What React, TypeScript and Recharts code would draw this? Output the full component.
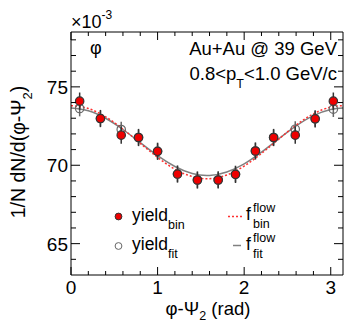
import {
  ComposedChart,
  Line,
  Scatter,
  ErrorBar,
  XAxis,
  YAxis
} from 'recharts'

// phi - Psi2 bin centers (rad) and measured yields (x10^-3)
const phiBins = [0.10, 0.34, 0.58, 0.78, 1.00, 1.23, 1.46, 1.70, 1.90, 2.13, 2.34, 2.59, 2.82, 3.03]
const yieldBin = [74.09, 72.98, 71.92, 71.77, 70.89, 69.44, 69.06, 69.06, 69.42, 70.91, 71.77, 71.92, 72.96, 74.09]
const yieldBinErr = [0.55, 0.55, 0.55, 0.55, 0.55, 0.55, 0.55, 0.55, 0.55, 0.55, 0.55, 0.55, 0.55, 0.55]
const yieldFit = [73.62, 72.98, 72.28, 71.77, 70.89, 69.44, 69.06, 69.06, 69.42, 70.91, 71.77, 72.30, 72.96, 73.58]
const yieldFitErr = [0.5, 0.5, 0.5, 0.5, 0.5, 0.5, 0.5, 0.5, 0.5, 0.5, 0.5, 0.5, 0.5, 0.5]

// flow curves
const curvePhi = [0, 0.2, 0.4, 0.6, 0.8, 1.0, 1.2, 1.4, 1.6, 1.8, 2.0, 2.2, 2.4, 2.6, 2.8, 3.0, 3.1416]
const flowFit = [73.65, 73.48, 73.0, 72.28, 71.44, 70.61, 69.92, 69.47, 69.35, 69.57, 70.09, 70.84, 71.69, 72.51, 73.17, 73.56, 73.65]
const flowBin = [73.8, 73.62, 73.09, 72.31, 71.4, 70.5, 69.75, 69.28, 69.14, 69.38, 69.95, 70.75, 71.67, 72.56, 73.28, 73.71, 73.8]

const xTicks = [0, 0.2, 0.4, 0.6, 0.8, 1, 1.2, 1.4, 1.6, 1.8, 2, 2.2, 2.4, 2.6, 2.8, 3]
const yTicks = [64, 65, 66, 67, 68, 69, 70, 71, 72, 73, 74, 75, 76, 77, 78]
const xLabels = [0, 1, 2, 3]
const yLabels = [65, 70, 75]

const FONT = '"Liberation Sans", Arial, Helvetica, sans-serif'

const binPts = phiBins.map((x, i) => ({ x, y: yieldBin[i], err: yieldBinErr[i] }))
const fitPts = phiBins.map((x, i) => ({ x, y: yieldFit[i], err: yieldFitErr[i] }))
const fitCurve = curvePhi.map((x, i) => ({ x, y: flowFit[i] }))
const binCurve = curvePhi.map((x, i) => ({ x, y: flowBin[i] }))

const isOn = (v: number, list: number[]) => list.some((l) => Math.abs(l - v) < 1e-6)

// frame edges in pixels (plot area)
const TOP = 32
const BOTTOM = 275
const LEFT = 71
const RIGHT = 343

const BottomTick = (props: any) => {
  const { x, payload } = props
  const major = isOn(payload.value, xLabels)
  return (
    <g>
      <line x1={x} x2={x} y1={BOTTOM} y2={BOTTOM - (major ? 8 : 4)} stroke="#000" />
      {major && (
        <text x={x} y={BOTTOM + 19} textAnchor="middle" fontSize={19} fontFamily={FONT} fill="#000">
          {payload.value}
        </text>
      )}
    </g>
  )
}

const TopTick = (props: any) => {
  const { x, payload } = props
  const major = isOn(payload.value, xLabels)
  return <line x1={x} x2={x} y1={TOP} y2={TOP + (major ? 8 : 4)} stroke="#000" />
}

const LeftTick = (props: any) => {
  const { y, payload } = props
  const major = isOn(payload.value, yLabels)
  return (
    <g>
      <line x1={LEFT} x2={LEFT + (major ? 9 : 5)} y1={y} y2={y} stroke="#000" />
      {major && (
        <text x={LEFT - 3} y={y + 7} textAnchor="end" fontSize={19} fontFamily={FONT} fill="#000">
          {payload.value}
        </text>
      )}
    </g>
  )
}

const RightTick = (props: any) => {
  const { y, payload } = props
  const major = isOn(payload.value, yLabels)
  return <line x1={RIGHT} x2={RIGHT - (major ? 9 : 5)} y1={y} y2={y} stroke="#000" />
}

const RedDot = (p: any) => <circle cx={p.cx} cy={p.cy} r={4.2} fill="#ee0000" stroke="#333" strokeWidth={1.2} />
const OpenDot = (p: any) => <circle cx={p.cx} cy={p.cy} r={4.2} fill="none" stroke="#666" strokeWidth={1.2} />

export default function App() {
  return (
    <div style={{ position: 'absolute', left: 0, top: 0, width: 345, height: 324, background: '#fff' }}>
      <ComposedChart width={345} height={324} margin={{ top: TOP - 1, right: 345 - RIGHT - 1, bottom: 324 - BOTTOM - 1, left: LEFT - 1 }}>
        <XAxis
          xAxisId="b"
          type="number"
          dataKey="x"
          domain={[0, Math.PI]}
          ticks={xTicks}
          interval={0}
          height={1}
          tickSize={0}
          tickMargin={0}
          tick={(p: any) => <BottomTick {...p} />}
          axisLine={{ stroke: '#000' }}
          allowDataOverflow
        />
        <XAxis
          xAxisId="t"
          orientation="top"
          type="number"
          dataKey="x"
          domain={[0, Math.PI]}
          ticks={xTicks}
          interval={0}
          height={1}
          tickSize={0}
          tickMargin={0}
          tick={(p: any) => <TopTick {...p} />}
          axisLine={{ stroke: '#000' }}
          allowDataOverflow
        />
        <YAxis
          yAxisId="l"
          type="number"
          domain={[63, 78.5]}
          ticks={yTicks}
          interval={0}
          width={1}
          tickSize={0}
          tickMargin={0}
          tick={(p: any) => <LeftTick {...p} />}
          axisLine={{ stroke: '#000' }}
          allowDataOverflow
        />
        <YAxis
          yAxisId="r"
          orientation="right"
          type="number"
          domain={[63, 78.5]}
          ticks={yTicks}
          interval={0}
          width={1}
          tickSize={0}
          tickMargin={0}
          tick={(p: any) => <RightTick {...p} />}
          axisLine={{ stroke: '#000' }}
          allowDataOverflow
        />
        <Line
          xAxisId="b"
          yAxisId="l"
          data={fitCurve}
          dataKey="y"
          type="natural"
          stroke="#808080"
          strokeWidth={1.5}
          dot={false}
          isAnimationActive={false}
        />
        <Line
          xAxisId="b"
          yAxisId="l"
          data={binCurve}
          dataKey="y"
          type="natural"
          stroke="#ff3030"
          strokeWidth={1.5}
          strokeDasharray="2 2"
          dot={false}
          isAnimationActive={false}
        />
        <Scatter xAxisId="b" yAxisId="l" data={fitPts} dataKey="y" shape={OpenDot} isAnimationActive={false}>
          <ErrorBar dataKey="err" direction="y" width={0} stroke="#666" strokeWidth={1.5} />
        </Scatter>
        <Scatter xAxisId="b" yAxisId="l" data={binPts} dataKey="y" shape={RedDot} isAnimationActive={false}>
          <ErrorBar dataKey="err" direction="y" width={0} stroke="#333" strokeWidth={1.5} />
        </Scatter>
      </ComposedChart>

      <svg
        width={345}
        height={324}
        style={{ position: 'absolute', left: 0, top: 0, pointerEvents: 'none' }}
        fontFamily={FONT}
        fill="#000"
      >
        <text x={71} y={28} fontSize={18}>
          ×10
          <tspan fontSize={12} dy={-9}>-3</tspan>
        </text>
        <text x={90} y={54} fontSize={18}>φ</text>
        <text x={337} y={55} fontSize={18.5} textAnchor="end">Au+Au @ 39 GeV</text>
        <text x={337} y={80} fontSize={18.5} textAnchor="end">
          0.8&lt;p
          <tspan fontSize={12.5} dy={8}>T</tspan>
          <tspan dy={-8}>&lt;1.0 GeV/c</tspan>
        </text>

        <text x={208} y={315} fontSize={18.5} textAnchor="middle">
          φ-Ψ
          <tspan fontSize={12.5} dy={5}>2</tspan>
          <tspan dy={-5}> (rad)</tspan>
        </text>
        <text x={25} y={152} fontSize={19.5} textAnchor="middle" transform="rotate(-90 25 152)">
          1/N dN/d(φ-Ψ
          <tspan fontSize={13} dy={7}>2</tspan>
          <tspan dy={-7}>)</tspan>
        </text>

        <circle cx={118.5} cy={216.5} r={3.4} fill="#ee0000" stroke="#333" strokeWidth={1} />
        <text x={132} y={221} fontSize={17.5}>
          yield
          <tspan fontSize={12.5} dy={7.5}>bin</tspan>
        </text>
        <circle cx={118.5} cy={246} r={3.4} fill="none" stroke="#666" strokeWidth={1} />
        <text x={132} y={250} fontSize={17.5}>
          yield
          <tspan fontSize={12.5} dy={7.5}>fit</tspan>
        </text>

        <line x1={228} x2={244} y1={216.5} y2={216.5} stroke="#ff3030" strokeWidth={1.5} strokeDasharray="2 2" />
        <text x={246} y={220} fontSize={17.5}>f</text>
        <text x={253} y={212} fontSize={12.5}>flow</text>
        <text x={253} y={228} fontSize={12.5}>bin</text>
        <line x1={233} x2={241} y1={245.5} y2={245.5} stroke="#808080" strokeWidth={1.5} />
        <text x={246} y={250} fontSize={17.5}>f</text>
        <text x={253} y={242} fontSize={12.5}>flow</text>
        <text x={253} y={258} fontSize={12.5}>fit</text>
      </svg>
    </div>
  )
}
